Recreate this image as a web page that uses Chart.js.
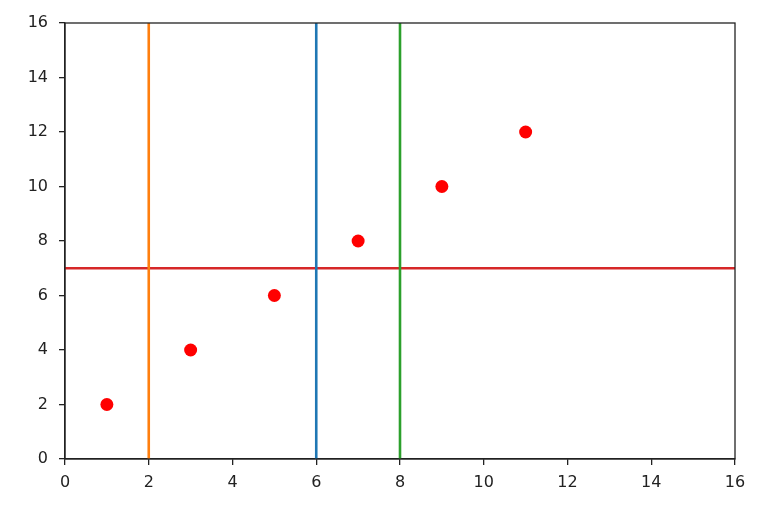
<!DOCTYPE html>
<html>
<head>
<meta charset="utf-8">
<script src="https://cdn.jsdelivr.net/npm/chart.js@4"></script>
<style>
  html, body { margin: 0; padding: 0; background: #fff; }
  #wrap { width: 762px; height: 508px; }
</style>
</head>
<body>
<div id="wrap"><canvas id="chart" width="762" height="508"></canvas></div>
<script>
// scatter points
const pointX = [1, 3, 5, 7, 9, 11];
const pointY = [2, 4, 6, 8, 10, 12];

// reference lines
const vLineX = [6, 2, 8];
const vLineColors = ['#1f77b4', '#ff7f0e', '#2ca02c'];
const hLineY = 7;
const hLineColor = '#d62728';

const axisMin = 0;
const axisMax = 16;
const tickStep = 2;

const datasets = [];

vLineX.forEach((x, i) => {
  datasets.push({
    type: 'line',
    data: [{x: x, y: axisMin}, {x: x, y: axisMax}],
    borderColor: vLineColors[i],
    borderWidth: 2.6,
    pointRadius: 0,
    fill: false
  });
});

datasets.push({
  type: 'line',
  data: [{x: axisMin, y: hLineY}, {x: axisMax, y: hLineY}],
  borderColor: hLineColor,
  borderWidth: 2.6,
  pointRadius: 0,
  fill: false
});

datasets.push({
  type: 'scatter',
  data: pointX.map((x, i) => ({x: x, y: pointY[i]})),
  backgroundColor: '#ff0000',
  borderWidth: 0,
  pointRadius: 6.5
});

const frame = {
  id: 'frame',
  afterDatasetsDraw(chart) {
    const a = chart.chartArea;
    const ctx = chart.ctx;
    ctx.save();
    ctx.strokeStyle = '#222';
    ctx.lineWidth = 1.3;
    ctx.strokeRect(a.left, a.top, a.right - a.left, a.bottom - a.top);
    ctx.restore();
  }
};

const font = {family: 'DejaVu Sans', size: 16};

new Chart(document.getElementById('chart'), {
  type: 'scatter',
  data: {datasets: datasets},
  options: {
    responsive: false,
    animation: false,
    layout: {padding: {left: 0, right: 27, top: 23, bottom: 14}},
    plugins: {legend: {display: false}, tooltip: {enabled: false}},
    scales: {
      x: {
        type: 'linear',
        min: axisMin,
        max: axisMax,
        ticks: {stepSize: tickStep, color: '#222', font: font, padding: 8},
        grid: {drawOnChartArea: false, drawTicks: true, tickLength: 6, color: '#222', lineWidth: 1.3},
        border: {display: true, color: '#222', width: 1.3},
        afterFit(scale) { scale.height = 35; }
      },
      y: {
        type: 'linear',
        min: axisMin,
        max: axisMax,
        ticks: {stepSize: tickStep, color: '#222', font: font, padding: 11},
        grid: {drawOnChartArea: false, drawTicks: true, tickLength: 6, color: '#222', lineWidth: 1.3},
        border: {display: true, color: '#222', width: 1.3},
        afterFit(scale) { scale.width = 65; }
      }
    }
  },
  plugins: [frame]
});
</script>
</body>
</html>
